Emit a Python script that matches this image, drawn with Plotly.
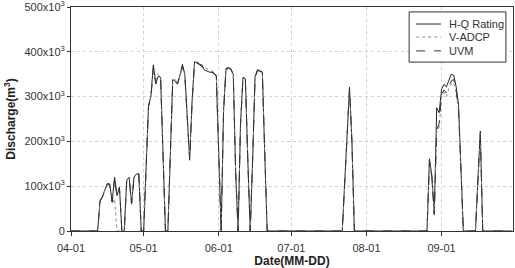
import pandas as pd
import plotly.graph_objects as go

# Discharge values in units of 10^3 m^3, daily from 2019-04-01
start_date = "2019-04-01"

hq_rating = ([0]*12 + [68, 77, 92, 106, 105, 65, 120, 79, 98] + [0, 0]
             + [113, 120, 61, 120, 127, 128] + [0, 0]
             + [150, 280, 300, 371, 330, 345, 343, 190] + [0, 0]
             + [190, 338, 335, 330, 348, 372, 350, 260, 160, 290, 378, 375, 371, 368, 360, 357, 355, 354, 352, 345, 170]
             + [0] + [270, 363, 365, 362, 350, 130] + [0] + [240, 343, 340, 160] + [0]
             + [160, 345, 360, 358, 355, 170] + [0]*32 + [107, 214, 321, 200] + [0]*31
             + [161, 124, 39, 275, 264, 316, 327, 322, 336, 350, 348, 323, 282, 140]
             + [0]*6 + [112, 223] + [0]*13)

v_adcp = ([0]*12 + [65, 75, 90, 104, 100, 62, 72, 0, 0] + [0, 0]
          + [110, 118, 58, 117, 125, 126] + [0, 0]
          + [145, 275, 305, 360, 335, 350, 340, 185] + [0, 0]
          + [185, 333, 338, 335, 345, 365, 348, 255, 165, 285, 372, 378, 375, 372, 365, 362, 360, 358, 355, 348, 165]
          + [0] + [265, 360, 362, 360, 348, 128] + [0] + [235, 340, 337, 158] + [0]
          + [155, 342, 357, 356, 352, 168] + [0]*32 + [105, 210, 315, 195] + [0]*31
          + [150, 115, 35, 220, 232, 298, 310, 300, 318, 328, 332, 308, 268, 130]
          + [0]*6 + [108, 218] + [0]*13)

uvm = ([0]*12 + [66, 76, 91, 105, 103, 64, 118, 77, 96] + [0, 0]
       + [111, 119, 60, 118, 126, 127] + [0, 0]
       + [148, 278, 298, 365, 328, 343, 341, 188] + [0, 0]
       + [188, 335, 333, 328, 346, 368, 347, 258, 158, 288, 375, 376, 373, 370, 362, 358, 356, 355, 353, 346, 168]
       + [0] + [268, 361, 363, 361, 349, 129] + [0] + [238, 341, 338, 159] + [0]
       + [158, 343, 358, 357, 354, 169] + [0]*32 + [106, 212, 318, 198] + [0]*31
       + [155, 120, 37, 225, 240, 305, 315, 308, 322, 335, 338, 315, 275, 135]
       + [0]*6 + [110, 220] + [0]*13)

series_names = ["H-Q Rating", "V-ADCP", "UVM"]
tick_dates = ["2019-04-01", "2019-05-01", "2019-06-01", "2019-07-01", "2019-08-01", "2019-09-01"]
y_tick_vals = [0, 100000, 200000, 300000, 400000, 500000]
y_tick_text = ["0", "100x10<sup>3</sup>", "200x10<sup>3</sup>", "300x10<sup>3</sup>",
               "400x10<sup>3</sup>", "500x10<sup>3</sup>"]

dates = pd.date_range(start_date, periods=len(hq_rating), freq="D")

styles = [("#222222", "solid"), ("#8a8a8a", "dot"), ("#333333", "dash")]
fig = go.Figure()
for name, vals, (col, dash) in zip(series_names, [hq_rating, v_adcp, uvm], styles):
    fig.add_trace(go.Scatter(x=dates, y=[v * 1000 for v in vals], mode="lines", name=name,
                             showlegend=False,
                             line=dict(color=col, width=1, dash=dash)))

# Legend drawn as a framed box with sample lines
leg_x0, leg_x1, leg_y0, leg_y1 = 0.765, 0.984, 0.754, 0.978
entry_y = [0.924, 0.866, 0.804]
fig.add_shape(type="rect", xref="paper", yref="paper", x0=leg_x0, x1=leg_x1, y0=leg_y0, y1=leg_y1,
              line=dict(color="#333333", width=1), fillcolor="white", layer="above")
for name, ey, (col, dash) in zip(series_names, entry_y, styles):
    fig.add_shape(type="line", xref="paper", yref="paper", x0=0.781, x1=0.837, y0=ey, y1=ey,
                  line=dict(color=col, width=1, dash=dash), layer="above")
    fig.add_annotation(xref="paper", yref="paper", x=0.851, y=ey, text=name, showarrow=False,
                       xanchor="left", yanchor="middle", font=dict(size=11, color="#333333"))

font_family = "Liberation Sans, Arial, sans-serif"
fig.update_layout(
    width=515, height=268,
    margin=dict(l=71, r=2, t=7, b=37),
    paper_bgcolor="white", plot_bgcolor="white",
    font=dict(family=font_family, size=11, color="#333333"),
    showlegend=False,
)
fig.update_xaxes(
    type="date", range=["2019-04-01", "2019-09-30 12:00"],
    tickvals=tick_dates, tickformat="%m-%d", automargin=False,
    showline=True, linecolor="#333333", linewidth=1, mirror=True,
    ticks="outside", ticklen=4, tickcolor="#333333", ticklabelstandoff=3,
    showgrid=True, gridcolor="#d0d0d0", griddash="dot", gridwidth=1,
    zeroline=False,
    title=dict(text="<b>Date(MM-DD)</b>", font=dict(size=12, color="#222222"), standoff=4),
)
fig.update_yaxes(
    range=[0, 500000], tickvals=y_tick_vals, ticktext=y_tick_text, automargin=False,
    showline=True, linecolor="#333333", linewidth=1, mirror=True,
    ticks="outside", ticklen=3, tickcolor="#333333", ticklabeloverflow="allow",
    showgrid=True, gridcolor="#d0d0d0", griddash="dot", gridwidth=1,
    zeroline=False,
    title=dict(text="<b>Discharge(m<sup>3</sup>)</b>", font=dict(size=12, color="#222222"), standoff=6),
)

fig.write_html("out.html")
